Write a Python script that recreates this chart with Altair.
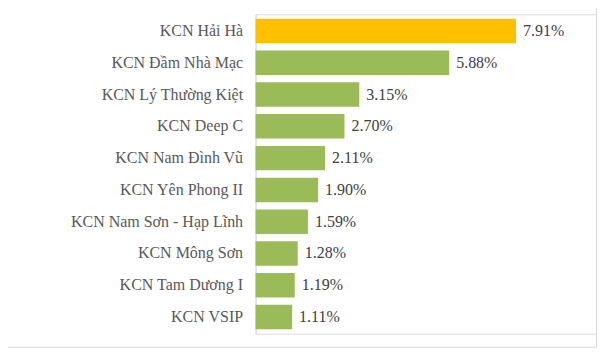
import altair as alt
import pandas as pd

names = ["KCN Hải Hà", "KCN Đầm Nhà Mạc", "KCN Lý Thường Kiệt", "KCN Deep C",
         "KCN Nam Đình Vũ", "KCN Yên Phong II", "KCN Nam Sơn - Hạp Lĩnh",
         "KCN Mông Sơn", "KCN Tam Dương I", "KCN VSIP"]
values = [7.91, 5.88, 3.15, 2.70, 2.11, 1.90, 1.59, 1.28, 1.19, 1.11]

df = pd.DataFrame({"name": names, "value": values})
df["label"] = [f"{v:.2f}%" for v in values]
df["group"] = ["top" if n == names[0] else "other" for n in names]

FONT = "Times New Roman, Liberation Serif, DejaVu Serif, serif"
W, H = 342, 320

y_enc = alt.Y("name:N", sort=names, title=None,
              scale=alt.Scale(paddingInner=0.23, paddingOuter=0.14),
              axis=alt.Axis(domainColor="#d9d9d9", domainWidth=1, ticks=False,
                            labelPadding=13, labelFont=FONT, labelFontSize=16,
                            labelColor="#595959", labelLimit=300))
x_enc = alt.X("value:Q", axis=None, scale=alt.Scale(domain=[0, 10.37], nice=False))

bars = alt.Chart(df).mark_bar().encode(
    x=x_enc, y=y_enc,
    color=alt.Color("group:N", legend=None,
                    scale=alt.Scale(domain=["top", "other"], range=["#FFC000", "#9BBB59"])),
)
text = alt.Chart(df).mark_text(align="left", baseline="middle", dx=7, font=FONT,
                               fontSize=16, color="#404040").encode(
    x=x_enc, y=y_enc, text="label:N")

right_border = alt.Chart(df.head(1)).mark_rule(color="#d9d9d9", strokeWidth=1).encode(
    x=alt.value(W - 0.5), y=alt.value(-6), y2=alt.value(H + 13))
bottom_border = alt.Chart(df.head(1)).mark_rule(color="#d9d9d9", strokeWidth=1).encode(
    x=alt.value(-248), x2=alt.value(W), y=alt.value(H + 13.5))

chart = alt.layer(bars, text, right_border, bottom_border).properties(
    width=W, height=H,
    autosize=alt.AutoSizeParams(type="none"),
    padding={"left": 248, "top": 6, "right": 0, "bottom": 14},
).configure_view(stroke=None).configure(background="white")

chart.save("out.html", embed_options={"renderer": "svg", "actions": False})
